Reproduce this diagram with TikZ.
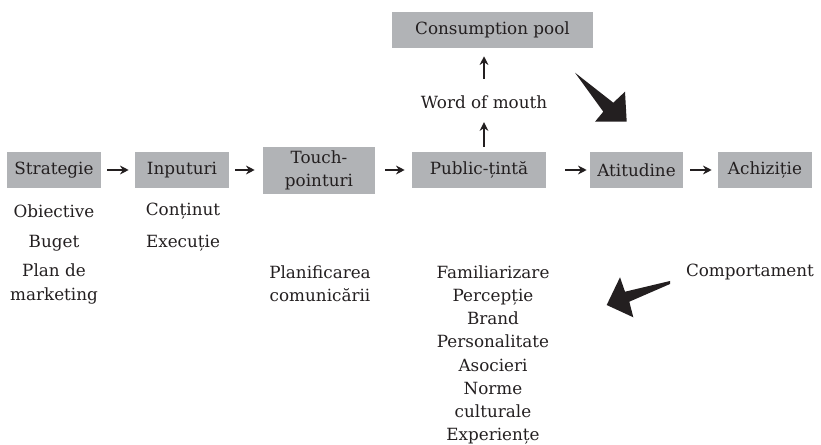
\documentclass[tikz,border=0pt]{standalone}
\usepackage{fontspec}
\setmainfont{DejaVu Serif}
\usepackage{xcolor}
\usetikzlibrary{arrows.meta, calc}
\definecolor{boxgray}{HTML}{B1B3B6}
\definecolor{inkdark}{HTML}{231F20}

\begin{document}
\begin{tikzpicture}[x=0.75pt, y=-0.75pt,
    every node/.style={font=\fontsize{12.6}{17.3}\selectfont, text=inkdark},
    stage/.style={fill=boxgray, minimum height=27pt, inner sep=0pt, align=center},
    flow/.style={-{Stealth[length=6.5pt, width=6.5pt]}, line width=1.3pt, inkdark,
                 shorten <=4.5pt, shorten >=4.5pt},
    item/.style={align=center}]
    \useasboundingbox (0,0) rectangle (821,445);
    % --- Main chain ---
    \node[stage, minimum width=70.5pt] (strat) at (54,170) {Strategie};
    \node[stage, minimum width=70.5pt] (inp) at (182,170) {Inputuri};
    \node[stage, minimum width=84pt, minimum height=35.25pt] (touch) at (319,170.5)
      {Touch-\\pointuri};
    \node[stage, minimum width=100.5pt] (public) at (479,170) {Public-țintă};
    \node[stage, minimum width=69.75pt] (atit) at (636.5,170) {Atitudine};
    \node[stage, minimum width=70.5pt] (achiz) at (765,170) {Achiziție};
    \draw[flow] (strat) -- (inp);
    \draw[flow, shorten >=6pt] (inp) -- (touch.west |- inp);
    \draw[flow, shorten <=7.5pt, shorten >=5.25pt] (touch.east |- public) -- (public);
    \draw[flow, shorten <=14.25pt, shorten >=2.25pt] (public) -- (atit);
    \draw[flow, shorten <=5.25pt] (atit) -- (achiz);
    % --- Word of mouth branch ---
    \node (wom) at (484,102) {Word of mouth};
    \node[stage, minimum width=150.75pt] (pool) at (492.5,30) {Consumption pool};
    \draw[flow, shorten <=3.75pt, shorten >=6.75pt] (wom |- public.north) -- (wom);
    \draw[flow, shorten <=9pt, shorten >=6pt] (wom) -- (wom |- pool.south);
    % --- Details under the boxes ---
    \node[item] (obj) at (54,211) {Obiective};
    \node[item] (buget) at (54,243) {Buget};
    \node[item] (plan) at (54,284) {Plan de\\marketing};
    \node[item] (cont) at (183,211) {Conținut};
    \node[item] (exec) at (183,243) {Execuție};
    \node[item] (planif) at (320,284) {Planificarea\\comunicării};
    \node[item] (fam) at (493,355)
      {Familiarizare\\Percepție\\Brand\\Personalitate\\Asocieri\\Norme\\culturale\\Experiențe};
    \node (comp) at (750,272) {Comportament};
    % --- Big arrows ---
    \fill[inkdark] (575,72.7) -- (603.3,111.7) -- (595,121.7) -- (626.7,121.7)
      -- (625,91.7) -- (613.3,102.7) -- cycle;
    \fill[inkdark] (670,281) -- (625,291.7) -- (620,277.3) -- (606.7,305)
      -- (633.3,317.3) -- (629.3,301.7) -- (670,284) -- cycle;
\end{tikzpicture}
\end{document}
